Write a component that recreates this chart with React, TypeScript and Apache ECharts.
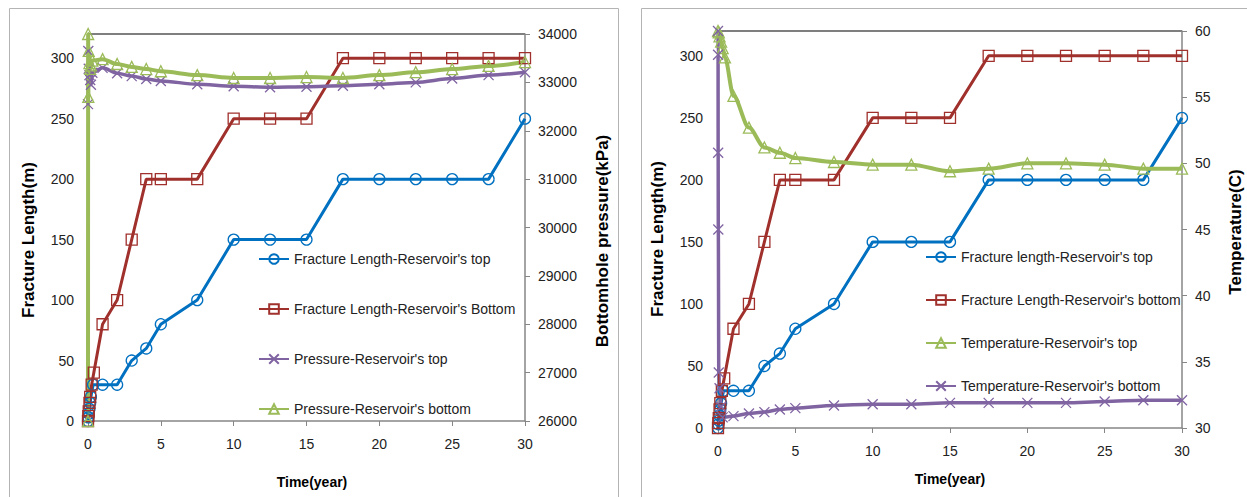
import React, { useEffect, useRef } from "react";
import * as echarts from "echarts";

// ---------- data (left chart) ----------
const fracTopT = [0, 0.03, 0.06, 0.1, 0.15, 0.2, 0.35, 1, 2, 3, 4, 5, 7.5, 10, 12.5, 15, 17.5, 20, 22.5, 25, 27.5, 30];
const fracTopV = [0, 3, 6, 10, 15, 20, 30, 30, 30, 50, 60, 80, 100, 150, 150, 150, 200, 200, 200, 200, 200, 250];

const fracBotT = [0, 0.02, 0.05, 0.1, 0.15, 0.25, 0.4, 1, 2, 3, 4, 5, 7.5, 10, 12.5, 15, 17.5, 20, 22.5, 25, 27.5, 30];
const fracBotV = [0, 4, 8, 15, 20, 30, 40, 80, 100, 150, 200, 200, 200, 250, 250, 250, 300, 300, 300, 300, 300, 300];

const presTopT = [0, 0.02, 0.05, 0.1, 0.15, 0.2, 0.3, 1, 2, 3, 4, 5, 7.5, 10, 12.5, 15, 17.5, 20, 22.5, 25, 27.5, 30];
const presTopV = [32550, 33650, 33280, 33150, 33050, 32950, 33200, 33300, 33190, 33130, 33070, 33030, 32960, 32920, 32900, 32910, 32930, 32960, 33000, 33080, 33150, 33210];

const presBotT = [0, 0.01, 0.02, 0.05, 0.1, 0.15, 0.2, 0.3, 1, 2, 3, 4, 5, 7.5, 10, 12.5, 15, 17.5, 20, 22.5, 25, 27.5, 30];
const presBotV = [26000, 34000, 32700, 33650, 33400, 33280, 33350, 33450, 33480, 33380, 33320, 33275, 33230, 33150, 33090, 33090, 33110, 33090, 33150, 33210, 33275, 33340, 33420];

// ---------- data (right chart) ----------
const tempTopT = [0, 0.05, 0.1, 0.2, 0.3, 0.45, 1, 2, 3, 4, 5, 7.5, 10, 12.5, 15, 17.5, 20, 22.5, 25, 27.5, 30];
const tempTopV = [60, 59.9, 59.6, 59.2, 58.7, 58.0, 55.1, 52.7, 51.2, 50.8, 50.4, 50.1, 49.9, 49.9, 49.4, 49.6, 50.0, 50.0, 49.9, 49.6, 49.6];

const tempBotT = [0, 0.005, 0.01, 0.02, 0.05, 0.1, 0.2, 0.3, 1, 2, 3, 4, 5, 7.5, 10, 12.5, 15, 17.5, 20, 22.5, 25, 27.5, 30];
const tempBotV = [60, 58.2, 50.8, 45.0, 34.2, 33.0, 31.6, 30.8, 30.9, 31.1, 31.2, 31.4, 31.5, 31.7, 31.8, 31.8, 31.9, 31.9, 31.9, 31.9, 32.0, 32.1, 32.1];

const leftNames = [
  "Fracture Length-Reservoir's top",
  "Fracture Length-Reservoir's Bottom",
  "Pressure-Reservoir's top",
  "Pressure-Reservoir's bottom",
];
const rightNames = [
  "Fracture length-Reservoir's top",
  "Fracture Length-Reservoir's bottom",
  "Temperature-Reservoir's top",
  "Temperature-Reservoir's bottom",
];

const BLUE = "#0070C0";
const RED = "#A0302C";
const PURPLE = "#8064A2";
const GREEN = "#9BBB59";
const AXIS = "#868686";
const FONT = "Liberation Sans";
const XSYM = "path://M0,0L12,12M12,0L0,12";

const pairs = (t: number[], v: number[]) => t.map((x, i) => [x, v[i]]);

function lineSeries(
  name: string,
  t: number[],
  v: number[],
  color: string,
  symbol: string,
  xi: number,
  yi: number,
  width: number,
  smooth: boolean
) {
  return {
    name,
    type: "line",
    xAxisIndex: xi,
    yAxisIndex: yi,
    data: pairs(t, v),
    symbol,
    symbolSize: symbol === XSYM ? 10 : 11,
    showAllSymbol: true,
    smooth: smooth ? 0.3 : false,
    smoothMonotone: smooth ? "x" : undefined,
    lineStyle: { color, width },
    itemStyle: { color: "transparent", borderColor: color, borderWidth: 1.3 },
    emphasis: { disabled: true },
  };
}

function xAxis(gi: number) {
  return {
    gridIndex: gi,
    type: "value",
    min: 0,
    max: 30,
    interval: 5,
    axisLine: { show: true, lineStyle: { color: AXIS, width: 1.5 } },
    axisTick: { show: true, length: 5, lineStyle: { color: AXIS } },
    axisLabel: { color: "#222", fontSize: 14, margin: 16, fontFamily: FONT },
    splitLine: { show: false },
  };
}

function yAxis(gi: number, pos: string, min: number, max: number, interval: number, ticks: boolean, margin: number) {
  return {
    gridIndex: gi,
    type: "value",
    position: pos,
    min,
    max,
    interval,
    axisLine: { show: true, lineStyle: { color: AXIS, width: 1.5 } },
    axisTick: { show: ticks, length: 5, lineStyle: { color: AXIS } },
    axisLabel: {
      color: "#222",
      fontSize: 14,
      margin,
      fontFamily: FONT,
      showMaxLabel: max % interval === 0,
      formatter: (v: number) => String(v),
    },
    splitLine: { show: false },
  };
}

function title(text: string, x: number, y: number, rot: number, size: number) {
  return {
    type: "text",
    x,
    y,
    rotation: rot,
    style: {
      text,
      fill: "#000",
      font: `bold ${size}px "${FONT}"`,
      align: "center",
      verticalAlign: "middle",
    },
  };
}

export default function App() {
  const ref = useRef<HTMLDivElement>(null);
  useEffect(() => {
    if (!ref.current) return;
    const chart = echarts.init(ref.current, undefined, { renderer: "svg" });
    const option = {
      animation: false,
      backgroundColor: "#fff",
      textStyle: { fontFamily: FONT },
      grid: [
        { left: 88, top: 34, width: 437, height: 387 },
        { left: 718, top: 31, width: 464, height: 397 },
      ],
      xAxis: [xAxis(0), xAxis(1)],
      yAxis: [
        yAxis(0, "left", 0, 320, 50, false, 14),
        yAxis(0, "right", 26000, 34000, 1000, true, 13),
        yAxis(1, "left", 0, 320, 50, false, 15),
        yAxis(1, "right", 30, 60, 5, true, 13),
      ],
      legend: [
        {
          data: leftNames,
          orient: "vertical",
          left: 258,
          top: 252,
          itemWidth: 30,
          itemHeight: 12,
          itemGap: 36,
          padding: 0,
          selectedMode: false,
          textStyle: { fontSize: 14, color: "#222", fontFamily: FONT },
        },
        {
          data: rightNames,
          orient: "vertical",
          left: 925,
          top: 250,
          itemWidth: 30,
          itemHeight: 12,
          itemGap: 29,
          padding: 0,
          selectedMode: false,
          textStyle: { fontSize: 14, color: "#222", fontFamily: FONT },
        },
      ],
      graphic: [
        { type: "rect", shape: { x: 9.5, y: 8.5, width: 609, height: 500 }, style: { fill: "none", stroke: "#b4b4b4", lineWidth: 1 }, silent: true },
        { type: "rect", shape: { x: 641.5, y: 8.5, width: 620, height: 500 }, style: { fill: "none", stroke: "#b4b4b4", lineWidth: 1 }, silent: true },
        { type: "line", shape: { x1: 88, y1: 34, x2: 525, y2: 34 }, style: { stroke: "#000", lineWidth: 1.2 }, silent: true },
        { type: "line", shape: { x1: 718, y1: 31, x2: 1182, y2: 31 }, style: { stroke: "#000", lineWidth: 1.2 }, silent: true },
        title("Fracture Length(m)", 28, 240, Math.PI / 2, 17),
        title("Bottomhole pressure(kPa)", 602, 241, Math.PI / 2, 17),
        title("Time(year)", 312, 482, 0, 14),
        title("Fracture Length(m)", 657, 239, Math.PI / 2, 17),
        title("Temperature(C)", 1235, 232, Math.PI / 2, 17),
        title("Time(year)", 950, 479, 0, 14),
      ],
      series: [
        lineSeries(leftNames[0], fracTopT, fracTopV, BLUE, "circle", 0, 0, 3, false),
        lineSeries(leftNames[1], fracBotT, fracBotV, RED, "rect", 0, 0, 3, false),
        lineSeries(leftNames[2], presTopT, presTopV, PURPLE, XSYM, 0, 1, 3.5, true),
        lineSeries(leftNames[3], presBotT, presBotV, GREEN, "triangle", 0, 1, 4, true),
        lineSeries(rightNames[0], fracTopT, fracTopV, BLUE, "circle", 1, 2, 3, false),
        lineSeries(rightNames[1], fracBotT, fracBotV, RED, "rect", 1, 2, 3, false),
        lineSeries(rightNames[2], tempTopT, tempTopV, GREEN, "triangle", 1, 3, 4, true),
        lineSeries(rightNames[3], tempBotT, tempBotV, PURPLE, XSYM, 1, 3, 3.5, true),
      ],
    };
    chart.setOption(option as any);
    return () => chart.dispose();
  }, []);
  return <div ref={ref} style={{ position: "absolute", left: 0, top: 0, width: 1247, height: 497 }} />;
}
